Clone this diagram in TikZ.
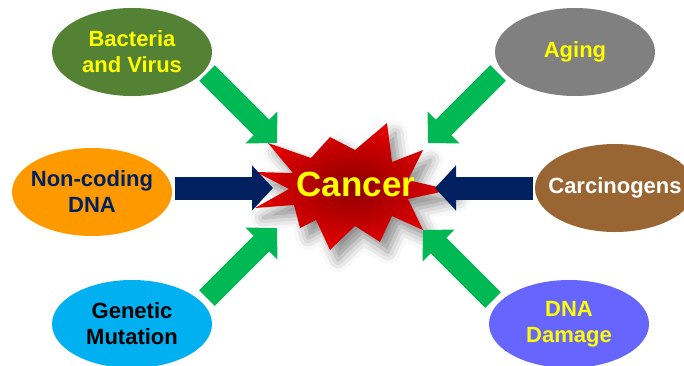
\documentclass[tikz,border=0pt]{standalone}
\usepackage{fontspec}
\setmainfont{Liberation Sans}
\usetikzlibrary{shapes.geometric,arrows.meta,shadows.blur}
\definecolor{leaf}{RGB}{84,130,53}
\definecolor{ash}{RGB}{128,128,128}
\definecolor{orng}{RGB}{255,153,0}
\definecolor{brwn}{RGB}{153,102,51}
\definecolor{cyn}{RGB}{0,176,240}
\definecolor{purp}{RGB}{102,102,255}
\definecolor{arrgreen}{RGB}{0,184,84}
\definecolor{navy}{RGB}{0,32,96}
\definecolor{yell}{RGB}{255,255,0}
\begin{document}
\begin{tikzpicture}[x=1pt,y=-1pt,
    cause/.style={ellipse,minimum width=160pt,minimum height=88pt,inner xsep=-25pt,inner ysep=0pt,
        align=center,font=\bfseries\fontsize{22}{26}\selectfont},
    grn/.style={draw=arrgreen,line width=22pt,-{Triangle[length=22pt,width=44pt]}},
    nvy/.style={draw=navy,line width=23pt,-{Triangle[length=21pt,width=44pt]}}]
    \useasboundingbox (0,0) rectangle (684,365);
    % star
    \path[blur shadow={shadow xshift=8pt,shadow yshift=-10pt,shadow blur radius=12pt,shadow opacity=45},
        inner color=red!55!black,outer color=red!90!black]
        (387,123) -- (392,162) -- (423,150) -- (408,180) -- (450,190) -- (408,199)
        -- (423,230) -- (392,216) -- (380,242) -- (355,226) -- (330,250) -- (316,220)
        -- (300,228) -- (294,205) -- (255,208) -- (289,189) -- (256,172) -- (293,173)
        -- (268,143) -- (311,158) -- (330,137) -- (355,150) -- cycle;
    \node[text=yell,font=\bfseries\fontsize{35}{40}\selectfont] (cancer) at (356,184) {Cancer};
    % causes
    \node[cause,fill=leaf,text=yell] (bact) at (132,52) {Bacteria\\and Virus};
    \node[cause,fill=ash,text=yell] (aging) at (575,52) {Aging};
    \node[cause,fill=orng,text=navy] (ncdna) at (92,192) {Non-coding\\DNA};
    \node[cause,fill=brwn,text=white] (carc) at (615,188) {Carcinogens};
    \node[cause,fill=cyn,text=black] (gene) at (132,324) {Genetic\\Mutation};
    \node[cause,fill=purp,text=yell] (dmg) at (569,324) {DNA\\Damage};
    % arrow ends
    \coordinate (bact-s) at (207,73);   \coordinate (bact-t) at (277,143);
    \coordinate (aging-s) at (498,73);  \coordinate (aging-t) at (428,143);
    \coordinate (gene-s) at (207,298);  \coordinate (gene-t) at (277,228);
    \coordinate (dmg-s) at (493,300);   \coordinate (dmg-t) at (423,230);
    \coordinate (ncdna-s) at (175,188); \coordinate (ncdna-t) at (273,188);
    \coordinate (carc-s) at (533,188);  \coordinate (carc-t) at (435,188);
    \draw[grn] (bact-s) -- (bact-t);
    \draw[grn] (aging-s) -- (aging-t);
    \draw[grn] (gene-s) -- (gene-t);
    \draw[grn] (dmg-s) -- (dmg-t);
    \draw[nvy] (ncdna-s) -- (ncdna-t);
    \draw[nvy] (carc-s) -- (carc-t);
\end{tikzpicture}
\end{document}
